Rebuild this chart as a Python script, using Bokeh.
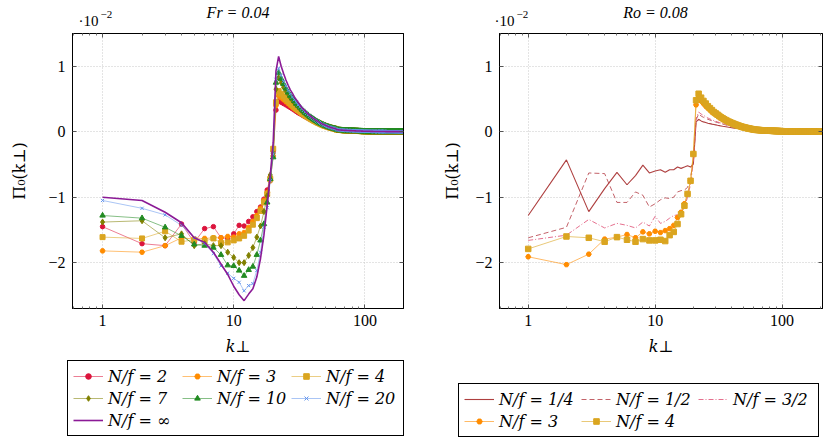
from bokeh.plotting import figure
from bokeh.layouts import row, column
from bokeh.models import FixedTicker, LogAxis, LinearAxis, Legend, LegendItem, Label, Range1d
from bokeh.embed import file_html
from bokeh.resources import INLINE

# ---------------- data (values in units of 1e-2) ----------------
k_head = [1, 2, 3, 4, 5, 6, 7, 8, 9, 10, 11, 12, 13, 14, 15, 16, 17, 18, 19, 20]
k_tail = [21, 22, 23, 24, 25, 26, 27, 28, 29, 30, 31, 32, 33, 34, 35, 36, 37, 38, 39, 40,
          41, 42, 43, 44, 45, 46, 47, 48, 49, 50, 51, 52, 53, 54, 55, 56, 57, 58, 59, 60]
k_far = [61, 62, 63, 64, 65, 66, 67, 68, 69, 70, 71, 72, 73, 74, 75, 76, 77, 78, 79, 80,
         81, 82, 83, 84, 85, 86, 87, 88, 89, 90, 91, 92, 93, 94, 95, 96, 97, 98, 99, 100,
         101, 102, 103, 104, 105, 106, 107, 108, 109, 110, 111, 112, 113, 114, 115, 116, 117, 118, 119, 120,
         121, 122, 123, 124, 125, 126, 127, 128, 129, 130, 131, 132, 133, 134, 135, 136, 137, 138, 139, 140,
         141, 142, 143, 144, 145, 146, 147, 148, 149, 150, 151, 152, 153, 154, 155, 156, 157, 158, 159, 160,
         161, 162, 163, 164, 165, 166, 167, 168, 169, 170, 171, 172, 173, 174, 175, 176, 177, 178, 179, 180,
         181, 182, 183, 184, 185, 186, 187, 188, 189, 190, 191, 192, 193, 194, 195, 196, 197, 198, 199, 200]
far_tail = [0.030, 0.029, 0.028, 0.027, 0.026, 0.025, 0.024, 0.023, 0.022, 0.021,
            0.021, 0.020, 0.019, 0.019, 0.018, 0.017, 0.017, 0.016, 0.016, 0.015,
            0.015, 0.014, 0.014, 0.013, 0.013, 0.012, 0.012, 0.012, 0.011, 0.011,
            0.010, 0.010, 0.010, 0.009, 0.009, 0.009, 0.008, 0.008, 0.008, 0.008,
            0.007, 0.007, 0.007, 0.007, 0.006, 0.006, 0.006, 0.006, 0.006, 0.005,
            0.005, 0.005, 0.005, 0.005, 0.005, 0.004, 0.004, 0.004, 0.004, 0.004,
            0.004, 0.004, 0.004, 0.003, 0.003, 0.003, 0.003, 0.003, 0.003, 0.003,
            0.003, 0.003, 0.003, 0.003, 0.003, 0.003, 0.003, 0.003, 0.003, 0.003,
            0.003, 0.003, 0.002, 0.002, 0.002, 0.002, 0.002, 0.002, 0.002, 0.002,
            0.002, 0.002, 0.002, 0.002, 0.002, 0.002, 0.002, 0.002, 0.002, 0.002,
            0.002, 0.002, 0.002, 0.002, 0.002, 0.002, 0.002, 0.002, 0.002, 0.002,
            0.002, 0.002, 0.001, 0.001, 0.001, 0.001, 0.001, 0.001, 0.001, 0.001,
            0.001, 0.001, 0.001, 0.001, 0.001, 0.001, 0.001, 0.001, 0.001, 0.001,
            0.001, 0.001, 0.001, 0.001, 0.001, 0.001, 0.001, 0.001, 0.001, 0.001]

# Left panel: Fr = 0.04
left_title = "Fr = 0.04"
left_labels = ["N/f = 2", "N/f = 3", "N/f = 4", "N/f = 7", "N/f = 10", "N/f = 20", "N/f = ∞"]

fr_nf2_head = [-1.45, -1.71, -1.74, -1.41, -1.69, -1.48, -1.45, -1.62, -1.63, -1.56,
               -1.43, -1.44, -1.37, -1.30, -1.22, -1.15, -1.03, -0.89, -0.70, -0.30]
fr_nf2_tail = [0.33, 0.47, 0.45, 0.43, 0.41, 0.39, 0.37, 0.35, 0.33, 0.31, 0.29,
               0.275, 0.26, 0.245, 0.23, 0.217, 0.205, 0.193, 0.182, 0.171, 0.161,
               0.151, 0.142, 0.133, 0.125, 0.117, 0.109, 0.102, 0.095, 0.089, 0.083,
               0.077, 0.072, 0.067, 0.062, 0.058, 0.054, 0.050, 0.046, 0.043]
fr_nf3_head = [-1.82, -1.84, -1.74, -1.62, -1.64, -1.63, -1.62, -1.62, -1.60, -1.61,
               -1.56, -1.54, -1.46, -1.37, -1.28, -1.17, -1.05, -0.93, -0.75, -0.37]
fr_nf3_tail = [0.40, 0.55, 0.52, 0.49, 0.46, 0.43, 0.40, 0.375, 0.35, 0.33, 0.31,
               0.29, 0.27, 0.255, 0.24, 0.225, 0.21, 0.197, 0.185, 0.173, 0.162,
               0.151, 0.141, 0.132, 0.123, 0.115, 0.107, 0.100, 0.093, 0.087, 0.081,
               0.075, 0.070, 0.065, 0.060, 0.056, 0.052, 0.048, 0.045, 0.042]
fr_nf4_head = [-1.61, -1.63, -1.52, -1.68, -1.65, -1.67, -1.63, -1.70, -1.69, -1.66,
               -1.63, -1.59, -1.51, -1.42, -1.32, -1.21, -1.08, -0.95, -0.72, -0.26]
fr_nf4_tail = [0.45, 0.62, 0.58, 0.54, 0.50, 0.47, 0.44, 0.41, 0.38, 0.355, 0.33,
               0.31, 0.29, 0.27, 0.25, 0.235, 0.22, 0.205, 0.19, 0.178, 0.166,
               0.155, 0.145, 0.135, 0.125, 0.116, 0.108, 0.100, 0.093, 0.087, 0.081,
               0.075, 0.070, 0.065, 0.060, 0.056, 0.052, 0.048, 0.045, 0.042]
fr_nf7_head = [-1.38, -1.36, -1.62, -1.56, -1.74, -1.71, -1.74, -1.74, -1.84, -1.92,
               -2.00, -2.00, -1.89, -1.77, -1.61, -1.44, -1.22, -0.98, -0.66, -0.33]
fr_nf7_tail = [0.65, 0.82, 0.75, 0.68, 0.62, 0.57, 0.52, 0.48, 0.44, 0.41, 0.38,
               0.35, 0.325, 0.30, 0.28, 0.26, 0.24, 0.225, 0.21, 0.195, 0.18,
               0.167, 0.155, 0.143, 0.132, 0.122, 0.113, 0.105, 0.097, 0.090, 0.083,
               0.077, 0.071, 0.066, 0.061, 0.057, 0.053, 0.049, 0.046, 0.043]
fr_nf10_head = [-1.28, -1.32, -1.46, -1.59, -1.72, -1.74, -1.77, -1.88, -2.04, -2.05,
                -2.12, -2.20, -2.11, -2.06, -1.88, -1.66, -1.41, -1.08, -0.72, -0.39]
fr_nf10_tail = [0.75, 0.90, 0.81, 0.73, 0.66, 0.60, 0.55, 0.51, 0.47, 0.43, 0.40,
                0.37, 0.34, 0.315, 0.29, 0.27, 0.25, 0.23, 0.215, 0.20, 0.185,
                0.17, 0.158, 0.146, 0.135, 0.125, 0.116, 0.107, 0.099, 0.092, 0.085,
                0.079, 0.073, 0.068, 0.063, 0.058, 0.054, 0.050, 0.047, 0.044]
fr_nf20_head = [-1.05, -1.17, -1.27, -1.43, -1.62, -1.71, -1.86, -2.05, -2.16, -2.24,
                -2.30, -2.43, -2.35, -2.32, -2.12, -1.84, -1.46, -1.16, -0.75, -0.34]
fr_nf20_tail = [0.80, 0.97, 0.86, 0.77, 0.70, 0.63, 0.58, 0.53, 0.49, 0.45, 0.41,
                0.38, 0.35, 0.325, 0.30, 0.28, 0.26, 0.24, 0.22, 0.205, 0.19,
                0.175, 0.162, 0.150, 0.139, 0.128, 0.118, 0.109, 0.101, 0.094, 0.087,
                0.080, 0.074, 0.069, 0.064, 0.059, 0.055, 0.051, 0.047, 0.044]
fr_inf_head = [-1.00, -1.05, -1.23, -1.39, -1.62, -1.69, -1.84, -2.02, -2.18, -2.36,
               -2.49, -2.58, -2.48, -2.40, -2.22, -1.94, -1.58, -1.12, -0.66, -0.16]
fr_inf_tail = [0.93, 1.15, 1.00, 0.89, 0.79, 0.71, 0.64, 0.59, 0.53, 0.49, 0.45,
               0.41, 0.37, 0.345, 0.32, 0.29, 0.27, 0.25, 0.23, 0.21, 0.195,
               0.18, 0.167, 0.154, 0.143, 0.132, 0.122, 0.113, 0.105, 0.097, 0.090,
               0.083, 0.077, 0.071, 0.066, 0.061, 0.056, 0.052, 0.048, 0.045]

# Right panel: Ro = 0.08
right_title = "Ro = 0.08"
right_labels = ["N/f = 1/4", "N/f = 1/2", "N/f = 3/2", "N/f = 3", "N/f = 4"]

ro_q14_head = [-1.28, -0.43, -1.22, -0.87, -0.62, -0.81, -0.67, -0.51, -0.63, -0.60,
               -0.58, -0.62, -0.58, -0.58, -0.54, -0.56, -0.54, -0.52, -0.54, -0.49]
ro_q14_tail = [0.15, 0.19, 0.165, 0.15, 0.14, 0.13, 0.123, 0.116, 0.110, 0.104, 0.098,
               0.093, 0.088, 0.083, 0.079, 0.075, 0.071, 0.067, 0.064, 0.061, 0.058,
               0.055, 0.053, 0.050, 0.048, 0.046, 0.044, 0.042, 0.040, 0.039, 0.037,
               0.036, 0.035, 0.034, 0.033, 0.032, 0.031, 0.031, 0.030, 0.030]
ro_q12_head = [-1.62, -1.46, -0.63, -0.64, -1.08, -1.08, -0.92, -0.97, -1.15, -1.10,
               -1.04, -1.01, -1.02, -1.00, -0.92, -0.90, -0.89, -0.85, -0.70, -0.45]
ro_q12_tail = [0.18, 0.27, 0.24, 0.22, 0.205, 0.19, 0.178, 0.167, 0.157, 0.148, 0.140,
               0.132, 0.124, 0.117, 0.110, 0.104, 0.098, 0.092, 0.087, 0.082, 0.077,
               0.073, 0.069, 0.065, 0.061, 0.058, 0.055, 0.052, 0.049, 0.047, 0.045,
               0.043, 0.041, 0.039, 0.037, 0.035, 0.034, 0.033, 0.032, 0.031]
ro_q32_head = [-1.66, -1.58, -1.34, -1.47, -1.40, -1.43, -1.47, -1.38, -1.44, -1.29,
               -1.40, -1.37, -1.32, -1.28, -1.27, -1.24, -1.15, -1.00, -0.80, -0.45]
ro_q32_tail = [0.20, 0.30, 0.27, 0.25, 0.23, 0.21, 0.195, 0.18, 0.17, 0.16, 0.15,
               0.14, 0.132, 0.124, 0.116, 0.109, 0.102, 0.096, 0.090, 0.085, 0.080,
               0.075, 0.071, 0.067, 0.063, 0.059, 0.056, 0.053, 0.050, 0.047, 0.045,
               0.043, 0.041, 0.039, 0.037, 0.035, 0.034, 0.033, 0.032, 0.031]
ro_nf3_head = [-1.91, -2.03, -1.87, -1.64, -1.61, -1.57, -1.62, -1.53, -1.56, -1.52,
               -1.54, -1.51, -1.48, -1.43, -1.31, -1.23, -1.10, -0.95, -0.75, -0.34]
ro_nf3_tail = [0.41, 0.52, 0.47, 0.43, 0.39, 0.36, 0.33, 0.30, 0.28, 0.26, 0.24,
               0.22, 0.205, 0.19, 0.177, 0.165, 0.154, 0.144, 0.134, 0.125, 0.117,
               0.109, 0.102, 0.095, 0.089, 0.083, 0.077, 0.072, 0.067, 0.063, 0.059,
               0.055, 0.051, 0.048, 0.045, 0.042, 0.039, 0.036, 0.034, 0.032]
ro_nf4_head = [-1.79, -1.60, -1.62, -1.68, -1.61, -1.65, -1.68, -1.64, -1.66, -1.66,
               -1.65, -1.67, -1.58, -1.53, -1.41, -1.26, -1.13, -0.95, -0.75, -0.34]
ro_nf4_tail = [0.48, 0.58, 0.52, 0.47, 0.43, 0.39, 0.36, 0.33, 0.30, 0.28, 0.26,
               0.24, 0.22, 0.205, 0.19, 0.177, 0.165, 0.154, 0.144, 0.134, 0.125,
               0.117, 0.109, 0.102, 0.095, 0.089, 0.083, 0.077, 0.072, 0.067, 0.063,
               0.059, 0.055, 0.051, 0.048, 0.045, 0.042, 0.039, 0.036, 0.034]

x_ticks = [1, 10, 100]
x_tick_labels = ["1", "10", "100"]
x_minor = [0.6, 0.7, 0.8, 0.9, 2, 3, 4, 5, 6, 7, 8, 9, 20, 30, 40, 50, 60, 70, 80, 90, 200]
y_ticks = [-2, -1, 0, 1]
y_tick_labels = ["−2", "−1", "0", "1"]

# ---------------- styling / layout constants ----------------
SERIF = "DejaVu Serif"
NUMF = "Liberation Serif"
W1, W2 = 440, 391          # widths of left / right columns
H_HEAD, H_MAIN, H_LEG = 33, 327, 83
k_all = k_head + k_tail + k_far


def series(head, tail):
    return head + tail + far_tail


def bare_fig(width, height, yflip=False, y0=0):
    yr = Range1d(y0 + height, y0) if yflip else Range1d(y0, y0 + height)
    f = figure(width=width, height=height, output_backend="svg", toolbar_location=None,
               x_range=Range1d(0, width), y_range=yr,
               x_axis_location=None, y_axis_location=None, min_border=0)
    f.outline_line_color = None
    f.xgrid.visible = False
    f.ygrid.visible = False
    return f


def header_fig(width, title, title_x, exp_x):
    h = bare_fig(width, H_HEAD, yflip=True)
    h.add_layout(Label(x=title_x, y=12, text=title, text_align="center", text_baseline="middle",
                       text_font=NUMF, text_font_style="italic", text_font_size="16px",
                       text_color="black"))
    h.add_layout(Label(x=exp_x, y=20, text="·10", text_align="left", text_baseline="middle",
                       text_font=NUMF, text_font_size="15px", text_color="black"))
    h.add_layout(Label(x=exp_x + 22, y=14, text="−2", text_align="left", text_baseline="middle",
                       text_font=NUMF, text_font_size="11px", text_color="black"))
    return h


def make_fig(width, xr, mb_left, mb_right, ylab_standoff):
    p = figure(width=width, height=H_MAIN, x_axis_type="log",
               x_range=Range1d(*xr), y_range=Range1d(-2.7, 1.5),
               output_backend="svg", toolbar_location=None,
               min_border_left=mb_left, min_border_right=mb_right,
               min_border_top=0, min_border_bottom=52)
    p.outline_line_color = "black"
    p.outline_line_width = 1
    xt = FixedTicker(ticks=x_ticks, minor_ticks=x_minor)
    yt = FixedTicker(ticks=y_ticks)
    for ax in p.xaxis:
        ax.ticker = xt
        ax.major_label_overrides = dict(zip(x_ticks, x_tick_labels))
    for ax in p.yaxis:
        ax.ticker = yt
        ax.major_label_overrides = dict(zip(y_ticks, y_tick_labels))
    for ax in list(p.xaxis) + list(p.yaxis):
        ax.major_tick_in = 4
        ax.major_tick_out = 0
        ax.minor_tick_in = 2
        ax.minor_tick_out = 0
        ax.axis_line_color = "black"
        ax.major_tick_line_color = "#555555"
        ax.minor_tick_line_color = "#777777"
        ax.major_label_text_font = NUMF
        ax.major_label_text_font_size = "16px"
        ax.major_label_text_color = "black"
        ax.axis_label_text_font = SERIF
        ax.axis_label_text_font_size = "16px"
        ax.axis_label_text_font_style = "normal"
        ax.axis_label_text_color = "black"
    p.xaxis.major_label_standoff = 6
    p.yaxis.major_label_standoff = 7
    p.xaxis.axis_label = "k⊥"
    p.xaxis.axis_label_text_font_style = "italic"
    p.xaxis.axis_label_standoff = 8
    p.yaxis.axis_label = "Π₀(k⊥)"
    p.yaxis.axis_label_standoff = ylab_standoff
    # mirrored ticks on top and right (no labels)
    top = LogAxis(ticker=xt, major_label_overrides={t: "" for t in x_ticks},
                  major_label_text_font_size="1px",
                  major_tick_in=4, major_tick_out=0,
                  minor_tick_in=2, minor_tick_out=0, major_label_standoff=0,
                  major_tick_line_color="#555555", minor_tick_line_color="#777777")
    p.add_layout(top, "above")
    right = LinearAxis(ticker=yt, major_label_overrides={t: "" for t in y_ticks},
                       major_label_text_font_size="1px",
                       major_tick_in=4, major_tick_out=0,
                       minor_tick_out=0, minor_tick_in=0, major_label_standoff=0,
                       major_tick_line_color="#555555")
    p.add_layout(right, "right")
    p.xgrid.grid_line_color = "#c8c8c8"
    p.xgrid.grid_line_dash = "1 2"
    p.ygrid.grid_line_color = "#c8c8c8"
    p.ygrid.grid_line_dash = "1 2"
    return p


def draw(fig, xs, ys, st):
    """Draw one series with style st; returns renderers for a legend item."""
    if st["marker"] is None:
        lr = fig.line(xs, ys, line_color=st["color"], line_width=st["lw"],
                      line_dash=st["dash"], line_alpha=st["alpha"])
        return [lr]
    lr = fig.line(xs, ys, line_color=st["color"], line_width=st["lw"], line_alpha=st["alpha"])
    sr = fig.scatter(xs, ys, marker=st["marker"], size=st["size"], fill_color=st["color"],
                     line_color=st["color"], line_width=1)
    return [lr, sr]


def legend_fig(width, labels, styles, ys_list, loc, label_width):
    # the legend lives in its own strip; its renderers carry the real series but
    # the strip's y-range lies far above the data, so only the legend is visible
    lf = bare_fig(width, H_LEG, y0=100)
    items = []
    for lab, st, ys in zip(labels, styles, ys_list):
        items.append(LegendItem(label=lab, renderers=draw(lf, k_all, ys, st)))
    leg = Legend(items=items, location=loc, orientation="horizontal")
    leg.ncols = 3
    leg.border_line_color = "black"
    leg.border_line_width = 1
    leg.border_line_alpha = 1
    leg.label_text_font = SERIF
    leg.label_text_font_style = "italic"
    leg.label_text_font_size = "16px"
    leg.label_text_color = "black"
    leg.glyph_width = 30
    leg.glyph_height = 14
    leg.label_height = 20
    leg.label_width = label_width
    leg.label_standoff = 5
    leg.spacing = 2
    leg.padding = 5
    leg.margin = 0
    leg.background_fill_alpha = 1
    lf.add_layout(leg, "center")
    return lf


def st(color, marker=None, size=0, lw=1.0, alpha=0.55, dash="solid"):
    return dict(color=color, marker=marker, size=size, lw=lw, alpha=alpha, dash=dash)


left_styles = [st("#dc143c", "circle", 4.5), st("#ff8c00", "hex", 5), st("#daa520", "square", 5),
               st("#808000", "diamond", 6), st("#228b22", "triangle", 5.5), st("#6495ed", "x", 4.5),
               st("#8b1a96", None, 0, lw=1.6, alpha=1.0)]
right_styles = [st("#a52a2a", None, 0, lw=1.1, alpha=0.9),
                st("#b9474f", None, 0, lw=1.0, alpha=0.85, dash="5 3"),
                st("#e0577a", None, 0, lw=1.0, alpha=0.85, dash="5 2 1 2"),
                st("#ff8c00", "hex", 5, alpha=0.6), st("#daa520", "square", 5.5, alpha=0.6)]

left_series = [series(h, t) for h, t in zip(
    [fr_nf2_head, fr_nf3_head, fr_nf4_head, fr_nf7_head, fr_nf10_head, fr_nf20_head, fr_inf_head],
    [fr_nf2_tail, fr_nf3_tail, fr_nf4_tail, fr_nf7_tail, fr_nf10_tail, fr_nf20_tail, fr_inf_tail])]
right_series = [series(h, t) for h, t in zip(
    [ro_q14_head, ro_q12_head, ro_q32_head, ro_nf3_head, ro_nf4_head],
    [ro_q14_tail, ro_q12_tail, ro_q32_tail, ro_nf3_tail, ro_nf4_tail])]

# ---------------- left column ----------------
xr_left = (0.59, 197)
h1 = header_fig(W1, left_title, 237.5, 78)
p1 = make_fig(W1, xr_left, 72, 37, 16)
for ys, s in zip(left_series, left_styles):
    draw(p1, k_all, ys, s)
l1 = legend_fig(W1, left_labels, left_styles, left_series, (67, 7), 72)

# ---------------- right column ----------------
xr_right = (0.594, 208)
h2 = header_fig(W2, right_title, 215, 54)
p2 = make_fig(W2, xr_right, 48, 9, 10)
for ys, s in zip(right_series, right_styles):
    draw(p2, k_all, ys, s)
l2 = legend_fig(W2, right_labels, right_styles, right_series, (18, 6), 80)

layout = column(row(h1, h2, spacing=0), row(p1, p2, spacing=0), row(l1, l2, spacing=0), spacing=0)
open("out.html", "w").write(file_html(layout, INLINE))
